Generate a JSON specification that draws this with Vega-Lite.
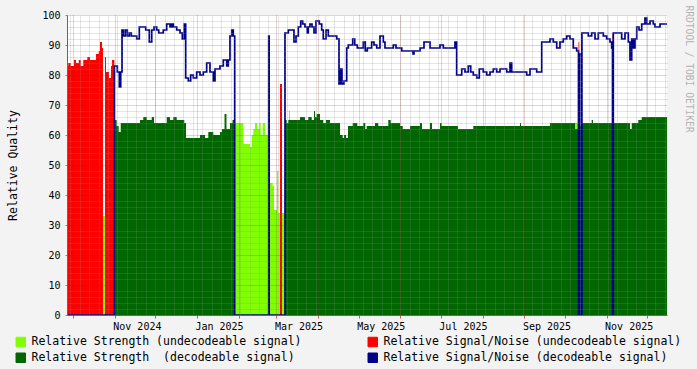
{
"$schema": "https://vega.github.io/schema/vega-lite/v6.json",
"width": 600, "height": 300,
"autosize": {"type": "none"},
"padding": {"left": 67, "top": 15, "right": 30, "bottom": 54},
"background": "#f3f3f3",
"config": {"view": {"fill": "white", "stroke": null}},
"data": {"values": [
{"t":"2024-09-26T13:00","us":0,"un":83,"ds":0,"dn":0},
{"t":"2024-09-27T12:00","us":0,"un":84,"ds":0,"dn":0},
{"t":"2024-09-29T07:00","us":0,"un":83,"ds":0,"dn":0},
{"t":"2024-10-01T18:00","us":0,"un":85,"ds":0,"dn":0},
{"t":"2024-10-03T05:00","us":0,"un":84,"ds":0,"dn":0},
{"t":"2024-10-05T06:00","us":0,"un":85,"ds":0,"dn":0},
{"t":"2024-10-06T17:00","us":0,"un":83,"ds":0,"dn":0},
{"t":"2024-10-08T15:00","us":0,"un":85,"ds":0,"dn":0},
{"t":"2024-10-11T15:00","us":0,"un":86,"ds":0,"dn":0},
{"t":"2024-10-13T15:00","us":0,"un":85,"ds":0,"dn":0},
{"t":"2024-10-18T02:00","us":0,"un":87,"ds":0,"dn":0},
{"t":"2024-10-20T02:00","us":0,"un":88,"ds":0,"dn":0},
{"t":"2024-10-21T01:00","us":0,"un":91,"ds":0,"dn":0},
{"t":"2024-10-22T13:00","us":0,"un":89,"ds":0,"dn":0},
{"t":"2024-10-23T06:00","us":33,"un":0,"ds":0,"dn":0},
{"t":"2024-10-24T18:00","us":0,"un":86,"ds":0,"dn":0},
{"t":"2024-10-25T12:00","us":0,"un":81,"ds":0,"dn":0},
{"t":"2024-10-27T17:00","us":0,"un":79,"ds":0,"dn":0},
{"t":"2024-10-29T05:00","us":0,"un":83,"ds":0,"dn":0},
{"t":"2024-10-29T23:00","us":0,"un":85,"ds":0,"dn":0},
{"t":"2024-10-31T16:00","us":0,"un":0,"ds":65,"dn":83},
{"t":"2024-11-02T10:00","us":0,"un":0,"ds":63,"dn":83},
{"t":"2024-11-02T21:00","us":0,"un":0,"ds":63,"dn":81},
{"t":"2024-11-03T22:00","us":0,"un":0,"ds":61,"dn":81},
{"t":"2024-11-04T09:00","us":0,"un":0,"ds":61,"dn":76},
{"t":"2024-11-05T10:00","us":0,"un":0,"ds":64,"dn":81},
{"t":"2024-11-06T09:00","us":0,"un":0,"ds":64,"dn":95},
{"t":"2024-11-07T08:00","us":0,"un":0,"ds":64,"dn":93},
{"t":"2024-11-08T20:00","us":0,"un":0,"ds":64,"dn":95},
{"t":"2024-11-10T07:00","us":0,"un":0,"ds":64,"dn":93},
{"t":"2024-11-11T19:00","us":0,"un":0,"ds":64,"dn":94},
{"t":"2024-11-13T06:00","us":0,"un":0,"ds":64,"dn":93},
{"t":"2024-11-17T07:00","us":0,"un":0,"ds":64,"dn":92},
{"t":"2024-11-19T05:00","us":0,"un":0,"ds":64,"dn":96},
{"t":"2024-11-19T17:00","us":0,"un":0,"ds":65,"dn":96},
{"t":"2024-11-22T04:00","us":0,"un":0,"ds":66,"dn":96},
{"t":"2024-11-23T23:00","us":0,"un":0,"ds":66,"dn":95},
{"t":"2024-11-24T17:00","us":0,"un":0,"ds":65,"dn":95},
{"t":"2024-11-26T15:00","us":0,"un":0,"ds":65,"dn":91},
{"t":"2024-11-28T10:00","us":0,"un":0,"ds":66,"dn":95},
{"t":"2024-11-30T03:00","us":0,"un":0,"ds":64,"dn":96},
{"t":"2024-12-02T03:00","us":0,"un":0,"ds":64,"dn":95},
{"t":"2024-12-03T15:00","us":0,"un":0,"ds":64,"dn":94},
{"t":"2024-12-07T00:00","us":0,"un":0,"ds":64,"dn":95},
{"t":"2024-12-09T13:00","us":0,"un":0,"ds":66,"dn":97},
{"t":"2024-12-12T00:00","us":0,"un":0,"ds":65,"dn":96},
{"t":"2024-12-13T06:00","us":0,"un":0,"ds":65,"dn":97},
{"t":"2024-12-14T11:00","us":0,"un":0,"ds":66,"dn":96},
{"t":"2024-12-16T23:00","us":0,"un":0,"ds":65,"dn":95},
{"t":"2024-12-19T10:00","us":0,"un":0,"ds":65,"dn":94},
{"t":"2024-12-21T03:00","us":0,"un":0,"ds":65,"dn":92},
{"t":"2024-12-22T14:00","us":0,"un":0,"ds":64,"dn":97},
{"t":"2024-12-23T15:00","us":0,"un":0,"ds":64,"dn":79},
{"t":"2024-12-23T21:00","us":0,"un":0,"ds":59,"dn":79},
{"t":"2024-12-25T14:00","us":0,"un":0,"ds":59,"dn":78},
{"t":"2024-12-27T08:00","us":0,"un":0,"ds":59,"dn":80},
{"t":"2024-12-29T07:00","us":0,"un":0,"ds":59,"dn":79},
{"t":"2024-12-31T19:00","us":0,"un":0,"ds":59,"dn":81},
{"t":"2025-01-03T06:00","us":0,"un":0,"ds":60,"dn":80},
{"t":"2025-01-05T17:00","us":0,"un":0,"ds":60,"dn":81},
{"t":"2025-01-06T23:00","us":0,"un":0,"ds":59,"dn":81},
{"t":"2025-01-08T05:00","us":0,"un":0,"ds":59,"dn":84},
{"t":"2025-01-09T10:00","us":0,"un":0,"ds":61,"dn":84},
{"t":"2025-01-10T16:00","us":0,"un":0,"ds":61,"dn":81},
{"t":"2025-01-13T03:00","us":0,"un":0,"ds":60,"dn":78},
{"t":"2025-01-14T09:00","us":0,"un":0,"ds":60,"dn":82},
{"t":"2025-01-18T02:00","us":0,"un":0,"ds":61,"dn":83},
{"t":"2025-01-19T14:00","us":0,"un":0,"ds":62,"dn":83},
{"t":"2025-01-20T13:00","us":0,"un":0,"ds":62,"dn":85},
{"t":"2025-01-21T11:00","us":0,"un":0,"ds":67,"dn":85},
{"t":"2025-01-22T22:00","us":0,"un":0,"ds":62,"dn":85},
{"t":"2025-01-23T02:00","us":0,"un":0,"ds":62,"dn":83},
{"t":"2025-01-24T06:00","us":0,"un":0,"ds":62,"dn":85},
{"t":"2025-01-25T12:00","us":0,"un":0,"ds":64,"dn":93},
{"t":"2025-01-26T19:00","us":0,"un":0,"ds":64,"dn":95},
{"t":"2025-01-27T09:00","us":0,"un":0,"ds":65,"dn":95},
{"t":"2025-01-27T23:00","us":0,"un":0,"ds":65,"dn":93},
{"t":"2025-01-29T00:00","us":64,"un":0,"ds":0,"dn":0},
{"t":"2025-02-04T09:00","us":57,"un":0,"ds":0,"dn":0},
{"t":"2025-02-09T09:00","us":56,"un":0,"ds":0,"dn":0},
{"t":"2025-02-10T15:00","us":60,"un":0,"ds":0,"dn":0},
{"t":"2025-02-11T20:00","us":62,"un":0,"ds":0,"dn":0},
{"t":"2025-02-13T02:00","us":64,"un":0,"ds":0,"dn":0},
{"t":"2025-02-14T19:00","us":62,"un":0,"ds":0,"dn":0},
{"t":"2025-02-16T06:00","us":64,"un":0,"ds":0,"dn":0},
{"t":"2025-02-17T07:00","us":60,"un":0,"ds":0,"dn":0},
{"t":"2025-02-18T19:00","us":64,"un":0,"ds":0,"dn":0},
{"t":"2025-02-20T12:00","us":60,"un":0,"ds":0,"dn":0},
{"t":"2025-02-23T06:00","us":0,"un":0,"ds":0,"dn":93},
{"t":"2025-02-23T14:00","us":0,"un":0,"ds":0,"dn":0},
{"t":"2025-02-24T05:00","us":44,"un":0,"ds":0,"dn":0},
{"t":"2025-02-26T05:00","us":43,"un":0,"ds":0,"dn":0},
{"t":"2025-02-27T04:00","us":35,"un":0,"ds":0,"dn":0},
{"t":"2025-03-01T10:00","us":48,"un":0,"ds":0,"dn":0},
{"t":"2025-03-02T09:00","us":34,"un":0,"ds":0,"dn":0},
{"t":"2025-03-03T15:00","us":34,"un":77,"ds":0,"dn":0},
{"t":"2025-03-05T03:00","us":34,"un":0,"ds":0,"dn":0},
{"t":"2025-03-07T08:00","us":0,"un":0,"ds":65,"dn":94},
{"t":"2025-03-08T14:00","us":0,"un":0,"ds":64,"dn":94},
{"t":"2025-03-09T19:00","us":0,"un":0,"ds":65,"dn":95},
{"t":"2025-03-10T07:00","us":68,"un":0,"ds":65,"dn":95},
{"t":"2025-03-11T01:00","us":0,"un":0,"ds":65,"dn":95},
{"t":"2025-03-14T00:00","us":0,"un":0,"ds":65,"dn":91},
{"t":"2025-03-15T12:00","us":0,"un":0,"ds":65,"dn":93},
{"t":"2025-03-17T05:00","us":0,"un":0,"ds":65,"dn":96},
{"t":"2025-03-18T11:00","us":0,"un":0,"ds":66,"dn":96},
{"t":"2025-03-19T00:00","us":0,"un":0,"ds":66,"dn":98},
{"t":"2025-03-20T11:00","us":0,"un":0,"ds":66,"dn":97},
{"t":"2025-03-22T04:00","us":0,"un":0,"ds":65,"dn":96},
{"t":"2025-03-23T21:00","us":0,"un":0,"ds":65,"dn":94},
{"t":"2025-03-24T15:00","us":0,"un":0,"ds":66,"dn":96},
{"t":"2025-03-25T21:00","us":0,"un":0,"ds":66,"dn":97},
{"t":"2025-03-27T04:00","us":0,"un":0,"ds":65,"dn":97},
{"t":"2025-03-27T09:00","us":0,"un":0,"ds":65,"dn":96},
{"t":"2025-03-28T21:00","us":0,"un":0,"ds":68,"dn":94},
{"t":"2025-03-29T15:00","us":0,"un":0,"ds":66,"dn":94},
{"t":"2025-03-30T08:00","us":0,"un":0,"ds":66,"dn":98},
{"t":"2025-03-30T21:00","us":0,"un":0,"ds":67,"dn":98},
{"t":"2025-04-01T19:00","us":0,"un":0,"ds":67,"dn":97},
{"t":"2025-04-02T08:00","us":0,"un":0,"ds":65,"dn":97},
{"t":"2025-04-03T14:00","us":0,"un":0,"ds":65,"dn":95},
{"t":"2025-04-04T18:00","us":0,"un":0,"ds":64,"dn":92},
{"t":"2025-04-06T18:00","us":0,"un":0,"ds":65,"dn":95},
{"t":"2025-04-08T11:00","us":0,"un":0,"ds":65,"dn":93},
{"t":"2025-04-09T18:00","us":0,"un":0,"ds":64,"dn":93},
{"t":"2025-04-14T17:00","us":0,"un":0,"ds":64,"dn":92},
{"t":"2025-04-16T10:00","us":0,"un":0,"ds":64,"dn":77},
{"t":"2025-04-17T04:00","us":0,"un":0,"ds":60,"dn":77},
{"t":"2025-04-17T16:00","us":0,"un":0,"ds":60,"dn":82},
{"t":"2025-04-18T15:00","us":0,"un":0,"ds":60,"dn":77},
{"t":"2025-04-19T04:00","us":0,"un":0,"ds":59,"dn":77},
{"t":"2025-04-20T03:00","us":0,"un":0,"ds":60,"dn":78},
{"t":"2025-04-21T15:00","us":0,"un":0,"ds":59,"dn":78},
{"t":"2025-04-22T03:00","us":0,"un":0,"ds":59,"dn":89},
{"t":"2025-04-23T02:00","us":0,"un":0,"ds":63,"dn":89},
{"t":"2025-04-23T08:00","us":0,"un":0,"ds":63,"dn":90},
{"t":"2025-04-26T14:00","us":0,"un":0,"ds":64,"dn":92},
{"t":"2025-04-28T02:00","us":0,"un":0,"ds":64,"dn":90},
{"t":"2025-04-30T00:00","us":0,"un":0,"ds":63,"dn":89},
{"t":"2025-05-04T11:00","us":0,"un":0,"ds":64,"dn":91},
{"t":"2025-05-05T22:00","us":0,"un":0,"ds":62,"dn":88},
{"t":"2025-05-06T23:00","us":0,"un":0,"ds":63,"dn":88},
{"t":"2025-05-07T10:00","us":0,"un":0,"ds":63,"dn":89},
{"t":"2025-05-10T16:00","us":0,"un":0,"ds":63,"dn":91},
{"t":"2025-05-12T09:00","us":0,"un":0,"ds":63,"dn":90},
{"t":"2025-05-13T03:00","us":0,"un":0,"ds":64,"dn":90},
{"t":"2025-05-14T10:00","us":0,"un":0,"ds":64,"dn":89},
{"t":"2025-05-15T14:00","us":0,"un":0,"ds":63,"dn":89},
{"t":"2025-05-16T20:00","us":0,"un":0,"ds":63,"dn":93},
{"t":"2025-05-19T07:00","us":0,"un":0,"ds":63,"dn":91},
{"t":"2025-05-20T13:00","us":0,"un":0,"ds":63,"dn":89},
{"t":"2025-05-23T00:00","us":0,"un":0,"ds":65,"dn":89},
{"t":"2025-05-24T19:00","us":0,"un":0,"ds":64,"dn":89},
{"t":"2025-05-26T17:00","us":0,"un":0,"ds":64,"dn":90},
{"t":"2025-05-28T17:00","us":0,"un":0,"ds":64,"dn":89},
{"t":"2025-05-31T17:00","us":0,"un":0,"ds":63,"dn":89},
{"t":"2025-06-01T23:00","us":0,"un":0,"ds":63,"dn":88},
{"t":"2025-06-02T17:00","us":0,"un":0,"ds":62,"dn":88},
{"t":"2025-06-08T03:00","us":0,"un":0,"ds":63,"dn":88},
{"t":"2025-06-10T08:00","us":0,"un":0,"ds":63,"dn":87},
{"t":"2025-06-11T02:00","us":0,"un":0,"ds":63,"dn":88},
{"t":"2025-06-15T13:00","us":0,"un":0,"ds":64,"dn":89},
{"t":"2025-06-17T00:00","us":0,"un":0,"ds":62,"dn":89},
{"t":"2025-06-18T12:00","us":0,"un":0,"ds":62,"dn":91},
{"t":"2025-06-22T23:00","us":0,"un":0,"ds":64,"dn":89},
{"t":"2025-06-24T11:00","us":0,"un":0,"ds":62,"dn":89},
{"t":"2025-06-30T09:00","us":0,"un":0,"ds":64,"dn":90},
{"t":"2025-07-01T12:00","us":0,"un":0,"ds":63,"dn":90},
{"t":"2025-07-02T20:00","us":0,"un":0,"ds":63,"dn":89},
{"t":"2025-07-11T12:00","us":0,"un":0,"ds":63,"dn":91},
{"t":"2025-07-12T18:00","us":0,"un":0,"ds":63,"dn":80},
{"t":"2025-07-13T18:00","us":0,"un":0,"ds":62,"dn":80},
{"t":"2025-07-16T12:00","us":0,"un":0,"ds":62,"dn":82},
{"t":"2025-07-18T22:00","us":0,"un":0,"ds":62,"dn":81},
{"t":"2025-07-21T09:00","us":0,"un":0,"ds":62,"dn":83},
{"t":"2025-07-23T04:00","us":0,"un":0,"ds":62,"dn":81},
{"t":"2025-07-25T02:00","us":0,"un":0,"ds":63,"dn":80},
{"t":"2025-07-27T15:00","us":0,"un":0,"ds":63,"dn":79},
{"t":"2025-07-29T13:00","us":0,"un":0,"ds":63,"dn":82},
{"t":"2025-08-01T12:00","us":0,"un":0,"ds":63,"dn":81},
{"t":"2025-08-04T01:00","us":0,"un":0,"ds":63,"dn":80},
{"t":"2025-08-06T12:00","us":0,"un":0,"ds":63,"dn":81},
{"t":"2025-08-08T22:00","us":0,"un":0,"ds":63,"dn":82},
{"t":"2025-08-11T11:00","us":0,"un":0,"ds":63,"dn":81},
{"t":"2025-08-13T22:00","us":0,"un":0,"ds":63,"dn":82},
{"t":"2025-08-18T21:00","us":0,"un":0,"ds":63,"dn":81},
{"t":"2025-08-21T08:00","us":0,"un":0,"ds":63,"dn":84},
{"t":"2025-08-22T14:00","us":0,"un":0,"ds":63,"dn":81},
{"t":"2025-08-28T18:00","us":0,"un":0,"ds":64,"dn":81},
{"t":"2025-08-29T12:00","us":0,"un":0,"ds":63,"dn":81},
{"t":"2025-09-02T17:00","us":0,"un":0,"ds":63,"dn":80},
{"t":"2025-09-05T04:00","us":0,"un":0,"ds":63,"dn":82},
{"t":"2025-09-10T03:00","us":0,"un":0,"ds":63,"dn":81},
{"t":"2025-09-13T21:00","us":0,"un":0,"ds":63,"dn":91},
{"t":"2025-09-20T00:00","us":0,"un":0,"ds":64,"dn":92},
{"t":"2025-09-22T11:00","us":0,"un":0,"ds":64,"dn":91},
{"t":"2025-09-25T00:00","us":0,"un":0,"ds":64,"dn":89},
{"t":"2025-09-27T10:00","us":0,"un":0,"ds":64,"dn":91},
{"t":"2025-09-29T21:00","us":0,"un":0,"ds":64,"dn":92},
{"t":"2025-10-02T10:00","us":0,"un":0,"ds":64,"dn":93},
{"t":"2025-10-04T21:00","us":0,"un":0,"ds":64,"dn":92},
{"t":"2025-10-07T07:00","us":0,"un":0,"ds":64,"dn":89},
{"t":"2025-10-08T14:00","us":64,"un":0,"ds":62,"dn":89},
{"t":"2025-10-09T20:00","us":64,"un":0,"ds":62,"dn":88},
{"t":"2025-10-11T04:00","us":63,"un":91,"ds":0,"dn":0},
{"t":"2025-10-11T18:00","us":0,"un":0,"ds":63,"dn":87},
{"t":"2025-10-13T06:00","us":63,"un":0,"ds":0,"dn":0},
{"t":"2025-10-13T17:00","us":0,"un":0,"ds":64,"dn":94},
{"t":"2025-10-18T11:00","us":0,"un":0,"ds":64,"dn":93},
{"t":"2025-10-20T23:00","us":0,"un":0,"ds":65,"dn":94},
{"t":"2025-10-21T22:00","us":0,"un":0,"ds":64,"dn":94},
{"t":"2025-10-23T10:00","us":0,"un":0,"ds":64,"dn":92},
{"t":"2025-10-25T21:00","us":0,"un":0,"ds":64,"dn":94},
{"t":"2025-10-29T14:00","us":0,"un":0,"ds":64,"dn":93},
{"t":"2025-11-01T02:00","us":0,"un":0,"ds":64,"dn":92},
{"t":"2025-11-03T13:00","us":0,"un":0,"ds":64,"dn":91},
{"t":"2025-11-04T19:00","us":0,"un":0,"ds":64,"dn":89},
{"t":"2025-11-05T10:00","us":64,"un":94,"ds":0,"dn":0},
{"t":"2025-11-06T00:00","us":0,"un":0,"ds":64,"dn":94},
{"t":"2025-11-12T05:00","us":0,"un":0,"ds":64,"dn":92},
{"t":"2025-11-14T16:00","us":0,"un":0,"ds":64,"dn":94},
{"t":"2025-11-17T03:00","us":0,"un":0,"ds":64,"dn":91},
{"t":"2025-11-18T09:00","us":0,"un":0,"ds":62,"dn":85},
{"t":"2025-11-19T16:00","us":0,"un":0,"ds":64,"dn":92},
{"t":"2025-11-20T20:00","us":0,"un":0,"ds":64,"dn":89},
{"t":"2025-11-22T02:00","us":0,"un":0,"ds":64,"dn":92},
{"t":"2025-11-23T09:00","us":0,"un":0,"ds":64,"dn":96},
{"t":"2025-11-24T13:00","us":0,"un":0,"ds":65,"dn":96},
{"t":"2025-11-25T02:00","us":0,"un":0,"ds":65,"dn":95},
{"t":"2025-11-27T02:00","us":0,"un":0,"ds":66,"dn":97},
{"t":"2025-11-29T12:00","us":0,"un":0,"ds":66,"dn":99},
{"t":"2025-11-30T19:00","us":0,"un":0,"ds":66,"dn":97},
{"t":"2025-12-03T06:00","us":0,"un":0,"ds":66,"dn":98},
{"t":"2025-12-05T16:00","us":0,"un":0,"ds":66,"dn":97},
{"t":"2025-12-06T23:00","us":0,"un":0,"ds":66,"dn":96},
{"t":"2025-12-10T16:00","us":0,"un":0,"ds":66,"dn":97},
{"t":"2025-12-15T20:30","us":0,"un":0,"ds":66,"dn":97}
]},
"layer": [
{
 "mark": {"type": "area", "interpolate": "step-after", "opacity": 1, "clip": true},
 "encoding": {
  "x": {"field": "t", "type": "temporal", "scale": {"domain": [{"year": 2024, "month": 9, "date": 26, "hours": 13}, {"year": 2025, "month": 12, "date": 15, "hours": 20, "minutes": 30}], "nice": false},
   "axis": {"orient": "top", "labels": false, "ticks": false, "domain": false, "grid": true, "gridColor": "#8c8c8c", "gridOpacity": 0.45, "gridDash": [1, 1], "tickCount": {"interval": "week", "step": 1}, "title": null, "zindex": 1}},
  "y": {"field": "us", "type": "quantitative", "stack": null, "scale": {"domain": [0, 100], "nice": false},
   "axis": {"orient": "right", "values": [2,4,6,8,12,14,16,18,22,24,26,28,32,34,36,38,42,44,46,48,52,54,56,58,62,64,66,68,72,74,76,78,82,84,86,88,92,94,96,98], "labels": false, "ticks": false, "domain": false, "grid": true, "gridColor": "#8c8c8c", "gridOpacity": 0.45, "gridDash": [1, 1], "zindex": 1,
    "title": "RRDTOOL / TOBI OETIKER", "titleAngle": 90, "titleX": 16, "titleY": -10, "titleAlign": "left", "titleBaseline": "bottom", "titleFont": "DejaVu Sans Mono", "titleFontSize": 9.6, "titleFontWeight": "normal", "titleColor": "#b4b4b4"}},
  "color": {"datum": "Relative Strength (undecodeable signal)", "type": "nominal",
   "scale": {"domain": ["Relative Strength (undecodeable signal)", "Relative Signal/Noise (undecodeable signal)", "Relative Strength \u00a0(decodeable signal)", "Relative Signal/Noise (decodeable signal)"], "range": ["#80ff00", "#ff0000", "#006600", "#000088"]},
   "legend": {"orient": "none", "legendX": -52, "legendY": 321, "direction": "horizontal", "columns": 2, "columnPadding": 64, "rowPadding": 2, "padding": 0, "title": null, "symbolType": "square", "symbolSize": 90, "symbolStrokeColor": "#000000", "symbolStrokeWidth": 1, "labelFont": "DejaVu Sans Mono", "labelFontSize": 11.5, "labelColor": "#000000", "labelOffset": 5, "labelLimit": 0,
    "encode": {"symbols": {"update": {"fill": {"scale": "color", "field": "value"}, "stroke": {"value": "#000000"}, "strokeWidth": {"value": 1}, "opacity": {"value": 1}, "shape": {"value": "square"}}}}}}
 }
},
{
 "mark": {"type": "area", "interpolate": "step-after", "opacity": 1, "clip": true},
 "encoding": {
  "x": {"field": "t", "type": "temporal",
   "axis": {"orient": "bottom", "grid": true, "gridColor": "#821e1e", "gridOpacity": 0.4, "gridDash": [1, 1], "tickCount": {"interval": "month", "step": 1}, "labelExpr": "month(datum.value) % 2 == 0 ? timeFormat(datum.value, '%b %Y') : ''", "labelAlign": "left", "labelOffset": -2, "labelFont": "DejaVu Sans Mono", "labelFontSize": 10, "labelColor": "#000000", "labelPadding": 3, "labelOverlap": false, "labelFlush": false, "labelBound": false, "ticks": true, "tickColor": "#c06060", "tickSize": 3, "domain": true, "domainColor": "#666666", "title": null, "zindex": 1}},
  "y": {"field": "un", "type": "quantitative", "stack": null,
   "axis": {"orient": "left", "values": [0,10,20,30,40,50,60,70,80,90,100], "grid": true, "gridColor": "#821e1e", "gridOpacity": 0.4, "gridDash": [1, 1], "labelFont": "DejaVu Sans Mono", "labelFontSize": 10, "labelColor": "#000000", "labelPadding": 5, "tickSize": 2, "tickColor": "#888888", "domain": true, "domainColor": "#666666", "title": "Relative Quality", "titleFont": "DejaVu Sans Mono", "titleFontSize": 11.5, "titleFontWeight": "normal", "titleColor": "#000000", "titlePadding": 23, "zindex": 1}},
  "color": {"datum": "Relative Signal/Noise (undecodeable signal)", "type": "nominal"}
 }
},
{
 "mark": {"type": "area", "interpolate": "step-after", "opacity": 1, "clip": true},
 "encoding": {
  "x": {"field": "t", "type": "temporal", "axis": null},
  "y": {"field": "ds", "type": "quantitative", "stack": null, "axis": null},
  "color": {"datum": "Relative Strength \u00a0(decodeable signal)", "type": "nominal"}
 }
},
{
 "mark": {"type": "line", "interpolate": "step-after", "strokeWidth": 1.7, "clip": true},
 "encoding": {
  "x": {"field": "t", "type": "temporal", "axis": null},
  "y": {"field": "dn", "type": "quantitative", "stack": null, "axis": null},
  "color": {"datum": "Relative Signal/Noise (decodeable signal)", "type": "nominal"}
 }
}
],
"resolve": {"axis": {"x": "independent", "y": "independent"}}
}
